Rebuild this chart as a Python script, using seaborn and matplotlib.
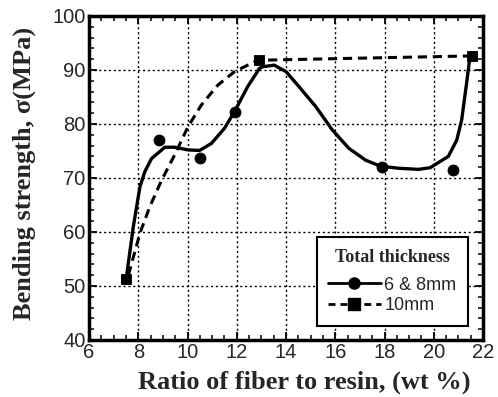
import numpy as np
import pandas as pd
import matplotlib
matplotlib.use("Agg")
import matplotlib.pyplot as plt
from matplotlib.lines import Line2D
from matplotlib.ticker import MultipleLocator
import seaborn as sns

# measured points
circ_x = [8.85, 10.5, 11.93, 17.9, 20.78]
circ_y = [77.0, 73.7, 82.2, 72.1, 71.5]
sq_x = [7.5, 12.9, 21.55]
sq_y = [51.3, 91.8, 92.6]

# fitted curve for 6 & 8mm
c1_x = [7.53, 7.80, 8.07, 8.27, 8.54, 9.08, 9.48, 10.02, 10.49, 10.97, 11.5, 11.91,
        12.44, 12.92, 13.05, 13.52, 14.0, 14.53, 15.21, 15.88, 16.55, 17.23, 17.83,
        18.57, 19.38, 19.85, 20.59, 20.93, 21.13, 21.33, 21.47]
c1_y = [52.0, 61.0, 68.4, 71.2, 73.6, 75.7, 75.7, 75.2, 75.1, 76.4, 79.2, 82.3,
        86.9, 90.3, 90.6, 90.9, 89.7, 86.9, 83.2, 78.9, 75.5, 73.3, 72.2,
        71.8, 71.6, 71.9, 74.0, 77.0, 80.7, 87.5, 92.5]
# fitted curve for 10mm
c2_x = [7.6, 8.07, 8.47, 8.95, 9.48, 10.02, 10.56, 11.23, 11.91, 12.58, 12.85, 16.0, 21.47]
c2_y = [52.0, 59.8, 64.7, 69.6, 74.3, 79.5, 83.5, 87.2, 89.7, 91.2, 91.8, 92.1, 92.6]

sns.set_style("ticks")
plt.rcParams['font.family'] = ['Liberation Sans', 'DejaVu Sans']

fig = plt.figure(figsize=(4.98, 3.97), dpi=100)
ax = fig.add_axes([0.1787, 0.1436, 0.7913, 0.8161])

d1 = pd.DataFrame({"x": c1_x, "y": c1_y})
d2 = pd.DataFrame({"x": c2_x, "y": c2_y})
sns.lineplot(data=d1, x="x", y="y", sort=False, color="black", lw=2.4, ax=ax, estimator=None)
sns.lineplot(data=d2, x="x", y="y", sort=False, color="black", lw=2.2, ax=ax,
             estimator=None, dashes=False, linestyle=(0, (3.0, 1.9)))
sns.scatterplot(x=circ_x, y=circ_y, marker="o", s=62, color="black", edgecolor="black", ax=ax, zorder=5)
sns.scatterplot(x=sq_x, y=sq_y, marker="s", s=62, color="black", edgecolor="black", ax=ax, zorder=5)

ax.set_xlim(6, 22)
ax.set_ylim(40, 100)
ax.xaxis.set_major_locator(MultipleLocator(2))
ax.xaxis.set_minor_locator(MultipleLocator(0.5))
ax.yaxis.set_major_locator(MultipleLocator(10))
ax.yaxis.set_minor_locator(MultipleLocator(2))
ax.tick_params(which="both", direction="in", top=True, right=True, color="black")
ax.tick_params(which="major", length=6, width=1.3, labelsize=14.5, pad=2.5)
ax.tick_params(which="minor", length=3.5, width=1.1)
ax.grid(True, which="major", linestyle=(0, (1.5, 2)), color="black", lw=1.0)
for s in ax.spines.values():
    s.set_linewidth(2.5)
    s.set_color("black")

ax.set_xlabel("Ratio of fiber to resin, (wt %)", family="Liberation Serif", weight="bold", fontsize=19, labelpad=3)
ax.set_ylabel("Bending strength, σ(MPa)", family="Liberation Serif", weight="bold", fontsize=19, labelpad=6)
ax.xaxis.set_label_coords(0.545, -0.095)
ax.yaxis.set_label_coords(-0.135, 0.515)

handles = [Line2D([], [], color="black", lw=2, marker="o", ms=8),
           Line2D([], [], color="black", lw=2, marker="s", ms=8, linestyle=(0, (2.5, 1.8)))]
leg = ax.legend(handles, ["6 & 8mm", "10mm"], title="Total thickness", loc="lower right",
                bbox_to_anchor=(0.985, 0.015), fontsize=13, frameon=True, fancybox=False,
                edgecolor="black", handlelength=2.9, handletextpad=0.2, borderpad=0.65,
                labelspacing=0.2, framealpha=1)
leg.get_frame().set_linewidth(1.5)
leg.get_title().set_fontfamily("Liberation Serif")
leg.get_title().set_fontweight("bold")
leg.get_title().set_fontsize(13)
leg._legend_box.sep = 8

fig.savefig("out.png", dpi=100)
